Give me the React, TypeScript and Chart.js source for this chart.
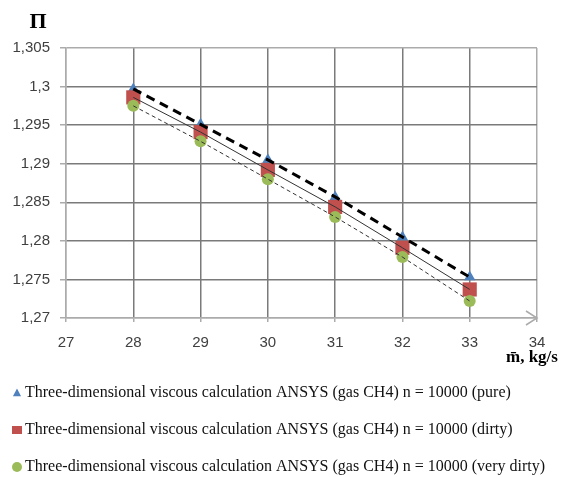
import React, { useEffect, useRef } from 'react';
import { Chart, registerables } from 'chart.js';

Chart.register(...registerables);

const xValues = [28, 29, 30, 31, 32, 33];
const pureValues = [1.2997, 1.2951, 1.2905, 1.2857, 1.2805, 1.2753];
const dirtyValues = [1.2986, 1.2941, 1.2892, 1.2844, 1.2791, 1.2737];
const veryDirtyValues = [1.2975, 1.2929, 1.288, 1.2831, 1.2779, 1.2722];
const seriesLabels = [
  'Three-dimensional viscous calculation ANSYS (gas CH4) n = 10000 (pure)',
  'Three-dimensional viscous calculation ANSYS (gas CH4) n = 10000 (dirty)',
  'Three-dimensional viscous calculation ANSYS (gas CH4) n = 10000 (very dirty)',
];
const xTicks = [27, 28, 29, 30, 31, 32, 33, 34];
const yTicks = [1.27, 1.275, 1.28, 1.285, 1.29, 1.295, 1.3, 1.305];
const yTitle = 'П';
const xTitle = 'm\u0304, kg/s';

const BLUE = '#4F81BD';
const RED = '#C0504D';
const GREEN = '#9BBB59';
const GRID = '#7a7a7a';
const AXIS = '#ababab';

const toPts = (vals: number[]) => xValues.map((x, i) => ({ x, y: vals[i] }));

function drawMarker(ctx: CanvasRenderingContext2D, style: string, x: number, y: number, r: number, color: string) {
  ctx.save();
  ctx.fillStyle = color;
  ctx.beginPath();
  if (style === 'triangle') {
    ctx.moveTo(x, y - r);
    ctx.lineTo(x + r * 0.9, y + r * 0.7);
    ctx.lineTo(x - r * 0.9, y + r * 0.7);
    ctx.closePath();
  } else if (style === 'rect') {
    ctx.rect(x - r - 0.5, y - r + 0.5, 2 * r + 1, 2 * r - 1);
  } else {
    ctx.arc(x, y, r, 0, Math.PI * 2);
  }
  ctx.fill();
  ctx.restore();
}

const decorPlugin = {
  id: 'decor',
  afterDraw(chart: any) {
    const { ctx, chartArea } = chart;
    const xs = chart.scales.x;
    const ys = chart.scales.y;
    ctx.save();
    // arrow on x-axis end
    const ax = xs.getPixelForValue(xTicks[xTicks.length - 1]);
    const ay = ys.getPixelForValue(yTicks[0]);
    ctx.strokeStyle = AXIS;
    ctx.lineWidth = 1.5;
    ctx.beginPath();
    ctx.moveTo(ax - 11, ay - 7);
    ctx.lineTo(ax, ay);
    ctx.lineTo(ax - 11, ay + 7);
    ctx.stroke();
    // y title
    ctx.fillStyle = '#000';
    ctx.font = 'bold 22px "Liberation Serif"';
    ctx.textAlign = 'center';
    ctx.textBaseline = 'alphabetic';
    ctx.fillText(yTitle, 38, 28);
    // x title
    ctx.font = 'bold 17px "Liberation Serif"';
    ctx.textAlign = 'left';
    ctx.fillText(xTitle, 506, 362);
    // legend
    const styles = ['triangle', 'rect', 'circle'];
    const colors = [BLUE, RED, GREEN];
    const sizes = [4.5, 4.5, 5];
    ctx.font = '16px "Liberation Serif"';
    ctx.textBaseline = 'middle';
    seriesLabels.forEach((label, i) => {
      const y = chartArea.bottom + 75 + i * 37;
      drawMarker(ctx, styles[i], 17, y, sizes[i], colors[i]);
      ctx.fillStyle = '#111';
      ctx.fillText(label, 25, y);
    });
    ctx.restore();
  },
};

export default function App() {
  const ref = useRef<HTMLCanvasElement>(null);
  useEffect(() => {
    if (!ref.current) return;
    const lineBase = { type: 'line', showLine: true, pointRadius: 0, fill: false, borderColor: '#333' };
    const chart = new Chart(ref.current, {
      type: 'scatter',
      data: {
        datasets: [
          { ...lineBase, label: 'trend pure', data: toPts(pureValues), borderColor: '#000', borderWidth: 3, borderDash: [9, 6] } as any,
          { ...lineBase, label: 'trend dirty', data: toPts(dirtyValues), borderWidth: 1 } as any,
          { ...lineBase, label: 'trend very dirty', data: toPts(veryDirtyValues), borderWidth: 1, borderDash: [4, 3] } as any,
          { label: seriesLabels[2], data: toPts(veryDirtyValues), pointStyle: 'circle', pointRadius: 6, backgroundColor: GREEN, borderColor: GREEN, borderWidth: 0 },
          { label: seriesLabels[1], data: toPts(dirtyValues), pointStyle: 'rect', pointRadius: 10, backgroundColor: RED, borderColor: RED, borderWidth: 0 },
          { label: seriesLabels[0], data: toPts(pureValues), pointStyle: 'triangle', pointRadius: 6.5, backgroundColor: BLUE, borderColor: BLUE, borderWidth: 0 },
        ],
      },
      options: {
        animation: false,
        responsive: false,
        maintainAspectRatio: false,
        layout: { padding: { left: 0, top: 48, right: 24, bottom: 119 } },
        plugins: { legend: { display: false }, tooltip: { enabled: false } },
        scales: {
          x: {
            type: 'linear',
            min: 27,
            max: 34,
            afterBuildTicks: (s: any) => { s.ticks = xTicks.map((v) => ({ value: v })); },
            afterFit: (s: any) => { s.height = 40; },
            grid: {
              color: (c: any) => (c.index === 0 || c.index === xTicks.length - 1 ? AXIS : GRID),
              lineWidth: 1.5,
              tickLength: 4,
              tickColor: AXIS,
            },
            border: { color: AXIS, width: 1.5 },
            ticks: {
              color: '#404040',
              font: { family: '"Liberation Sans"', size: 15 },
              padding: 12,
              maxRotation: 0,
            },
          },
          y: {
            type: 'linear',
            min: 1.27,
            max: 1.305,
            afterBuildTicks: (s: any) => { s.ticks = yTicks.map((v) => ({ value: v })); },
            afterFit: (s: any) => { s.width = 66; },
            grid: {
              color: (c: any) => (c.index === yTicks.length - 1 || c.index === 0 ? AXIS : GRID),
              lineWidth: 1.5,
              tickLength: 6,
              tickColor: AXIS,
            },
            border: { color: AXIS, width: 1.5 },
            ticks: {
              color: '#404040',
              font: { family: '"Liberation Sans"', size: 15 },
              padding: 10,
              callback: (v: any) => Number(Number(v).toFixed(3)).toString().replace('.', ','),
            },
          },
        },
      },
      plugins: [decorPlugin],
    } as any);
    return () => chart.destroy();
  }, []);
  return (
    <div style={{ position: 'fixed', left: 0, top: 0, width: 561, height: 477, background: '#fff' }}>
      <canvas ref={ref} width={561} height={477} style={{ width: 561, height: 477, display: 'block' }} />
    </div>
  );
}
